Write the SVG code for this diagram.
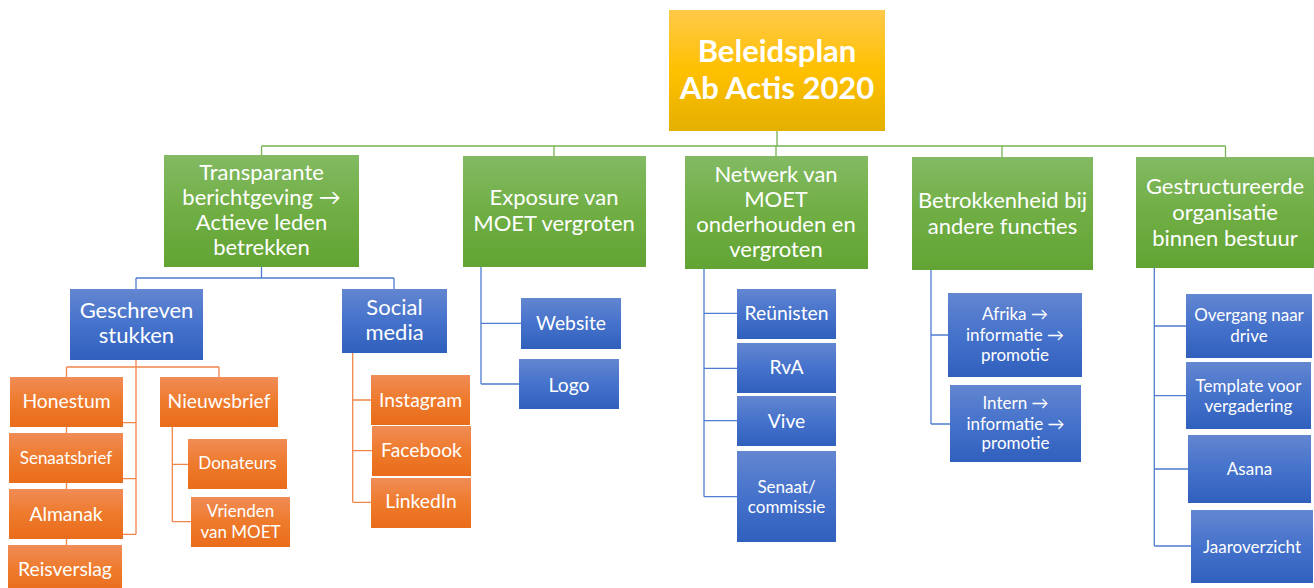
<svg xmlns="http://www.w3.org/2000/svg" width="1314" height="588" viewBox="0 0 1314 588">
<defs>
<linearGradient id="gGold" x1="0" y1="0" x2="0" y2="1"><stop offset="0" stop-color="#ffc94a"/><stop offset="0.5" stop-color="#ffc000"/><stop offset="1" stop-color="#e4b000"/></linearGradient>
<linearGradient id="gGreen" x1="0" y1="0" x2="0" y2="1"><stop offset="0" stop-color="#83ba63"/><stop offset="0.5" stop-color="#70ae44"/><stop offset="1" stop-color="#62a434"/></linearGradient>
<linearGradient id="gBlue" x1="0" y1="0" x2="0" y2="1"><stop offset="0" stop-color="#6386d0"/><stop offset="0.5" stop-color="#4572cb"/><stop offset="1" stop-color="#3060bd"/></linearGradient>
<linearGradient id="gOrange" x1="0" y1="0" x2="0" y2="1"><stop offset="0" stop-color="#f08c56"/><stop offset="0.5" stop-color="#ee7a2c"/><stop offset="1" stop-color="#e96c1a"/></linearGradient>
</defs>
<style>
text{font-family:Lato,"Open Sans","Liberation Sans",sans-serif;fill:#fff;text-anchor:middle}
.root rect{fill:url(#gGold)}
.root text{font-weight:bold;font-size:31px}
.l1 rect{fill:url(#gGreen)}
.l1 text,.l2 text{font-size:22px}
.l2 rect,.bl rect{fill:url(#gBlue)}
.or rect{fill:url(#gOrange)}
.m text{font-size:19.3px}
.s text{font-size:17px}
.c{fill:none;stroke-width:1.3}
.cg{stroke:#77b352}
.cb{stroke:#4f7cd0}
.co{stroke:#f0864a}
</style>
<g id="connectors">
<path class="c cg" d="M777 131V146M261.5 146H1225.5M261.5 146V155M554 146V156M776 146V156M1002 146V157M1225.5 146V157"/>
<path class="c cb" d="M261.5 267V278M136 278H394M136 278V289M394 278V289"/>
<path class="c co" d="M136 360V534.3M66.5 367H219M66.5 367V377M219 367V377M122.7 422.7H136M122.7 478.7H136M122.7 534.3H136M66.5 427V433M66.5 483V489M66.5 539V545"/>
<path class="c co" d="M172.3 427V521.7M172.3 464.3H188M172.3 521.7H191"/>
<path class="c co" d="M352.7 353V502.3M352.7 400H371M352.7 450.7H372M352.7 502.3H371"/>
<path class="c cb" d="M481 267V384M481 323.3H521M481 384H519"/>
<path class="c cb" d="M704 269V496.7M704 313.3H737M704 368.3H737M704 420.7H737M704 496.7H737"/>
<path class="c cb" d="M931 270V424M931 335H948M931 424H950"/>
<path class="c cb" d="M1154.3 268V546M1154.3 326H1186M1154.3 395.7H1186M1154.3 469H1188M1154.3 546H1191"/>
</g>
<g id="root" class="root"><rect x="669" y="10" width="216" height="121"/><text x="777" y="61.7">Beleidsplan</text><text x="777" y="99.3">Ab Actis 2020</text></g>
<g id="transparante" class="l1"><rect x="164" y="155" width="195" height="112"/><text x="261.5" y="180">Transparante</text><text x="261.5" y="205">berichtgeving →</text><text x="261.5" y="230">Actieve leden</text><text x="261.5" y="255">betrekken</text></g>
<g id="exposure" class="l1"><rect x="463" y="156" width="183" height="111"/><text x="554" y="205">Exposure van</text><text x="554" y="230.7">MOET vergroten</text></g>
<g id="netwerk" class="l1"><rect x="685" y="156" width="183" height="113"/><text x="776" y="182">Netwerk van</text><text x="776" y="206.7">MOET</text><text x="776" y="231.7">onderhouden en</text><text x="776" y="256.7">vergroten</text></g>
<g id="betrokkenheid" class="l1"><rect x="912" y="157" width="181" height="113"/><text x="1002.5" y="208.3">Betrokkenheid bij</text><text x="1002.5" y="234">andere functies</text></g>
<g id="gestructureerde" class="l1"><rect x="1136" y="157" width="180" height="111"/><text x="1225" y="194">Gestructureerde</text><text x="1225" y="220">organisatie</text><text x="1225" y="246">binnen bestuur</text></g>
<g id="geschreven" class="l2"><rect x="70" y="289" width="133" height="71"/><text x="136.5" y="318.3">Geschreven</text><text x="136.5" y="343.3">stukken</text></g>
<g id="socialmedia" class="l2"><rect x="342" y="289" width="105" height="64"/><text x="394.5" y="315">Social</text><text x="394.5" y="340">media</text></g>
<g id="honestum" class="or m"><rect x="10" y="377" width="113" height="50"/><text x="66.5" y="408.3">Honestum</text></g>
<g id="senaatsbrief" class="or s"><rect x="9" y="433" width="114" height="50"/><text x="66" y="464.3">Senaatsbrief</text></g>
<g id="almanak" class="or m"><rect x="9" y="489" width="114" height="50"/><text x="66" y="520.7">Almanak</text></g>
<g id="reisverslag" class="or m"><rect x="8" y="545" width="114" height="50"/><text x="65" y="575.7">Reisverslag</text></g>
<g id="nieuwsbrief" class="or m"><rect x="160" y="377" width="118" height="50"/><text x="219" y="408.3">Nieuwsbrief</text></g>
<g id="donateurs" class="or s"><rect x="188" y="439" width="99" height="50"/><text x="237.5" y="469.3">Donateurs</text></g>
<g id="vrienden" class="or s"><rect x="191" y="497" width="99" height="50"/><text x="240.5" y="517.3">Vrienden</text><text x="240.5" y="537.7">van MOET</text></g>
<g id="instagram" class="or m"><rect x="371" y="375" width="99" height="50"/><text x="420.5" y="407.3">Instagram</text></g>
<g id="facebook" class="or m"><rect x="372" y="426" width="99" height="50"/><text x="421.5" y="457.3">Facebook</text></g>
<g id="linkedin" class="or m"><rect x="371" y="478" width="100" height="50"/><text x="421" y="508.3">LinkedIn</text></g>
<g id="website" class="bl m"><rect x="521" y="298" width="100" height="51"/><text x="571" y="330">Website</text></g>
<g id="logo" class="bl m"><rect x="519" y="359" width="100" height="50"/><text x="569" y="391.7">Logo</text></g>
<g id="reunisten" class="bl m"><rect x="737" y="289" width="99" height="50"/><text x="786.5" y="320">Reünisten</text></g>
<g id="rva" class="bl m"><rect x="737" y="343" width="99" height="50"/><text x="786.5" y="374.3">RvA</text></g>
<g id="vive" class="bl m"><rect x="737" y="396" width="99" height="50"/><text x="786.5" y="428.3">Vive</text></g>
<g id="senaat" class="bl s"><rect x="737" y="451" width="99" height="91"/><text x="786.5" y="492.7">Senaat/</text><text x="786.5" y="512.7">commissie</text></g>
<g id="afrika" class="bl s"><rect x="948" y="293" width="134" height="84"/><text x="1015" y="320">Afrika →</text><text x="1015" y="341">informatie →</text><text x="1015" y="360.7">promotie</text></g>
<g id="intern" class="bl s"><rect x="950" y="385" width="131" height="77"/><text x="1015.5" y="409.3">Intern →</text><text x="1015.5" y="429.7">informatie →</text><text x="1015.5" y="449.3">promotie</text></g>
<g id="overgang" class="bl s"><rect x="1186" y="294" width="126" height="64"/><text x="1249" y="321.3">Overgang naar</text><text x="1249" y="342.3">drive</text></g>
<g id="template" class="bl s"><rect x="1186" y="362" width="125" height="67"/><text x="1248.5" y="391.7">Template voor</text><text x="1248.5" y="412.3">vergadering</text></g>
<g id="asana" class="bl s"><rect x="1188" y="435" width="123" height="68"/><text x="1249.5" y="475">Asana</text></g>
<g id="jaaroverzicht" class="bl s"><rect x="1191" y="510" width="122" height="73"/><text x="1252" y="552.7">Jaaroverzicht</text></g>
</svg>
